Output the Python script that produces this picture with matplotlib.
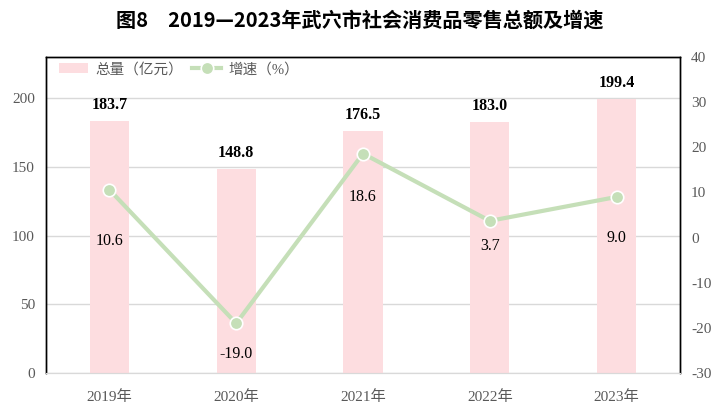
import matplotlib.pyplot as plt

plt.rcParams['font.family'] = ['Liberation Serif', 'Noto Sans CJK SC']
plt.rcParams['axes.unicode_minus'] = False

years = ['2019年', '2020年', '2021年', '2022年', '2023年']
total = [183.7, 148.8, 176.5, 183.0, 199.4]
growth = [10.6, -19.0, 18.6, 3.7, 9.0]

# label offsets below the line points, in pixels
growth_offsets = [-51, -31, -43, -25, -41]

pink = '#fddde0'
green = '#c5dfb8'
gray = '#595959'

fig = plt.figure(figsize=(7.2, 4.18), dpi=100)
ax = fig.add_axes([46 / 720, 1 - 373 / 418, 634 / 720, 316 / 418])
ax2 = ax.twinx()

x = list(range(len(years)))
bars = ax.bar(x, total, width=0.31, color=pink, label='总量（亿元）', zorder=2)
for xi, v in zip(x, total):
    ax.annotate(f'{v:.1f}', (xi, v), xytext=(0, 16), textcoords='offset pixels',
                ha='center', va='center', fontsize=11.5, fontweight='bold', color='black')

ax2.plot(x, growth, color=green, lw=3, marker='o', markersize=9,
         markerfacecolor=green, markeredgecolor='white', markeredgewidth=1.2,
         label='增速（%）', zorder=3)
for xi, v, off in zip(x, growth, growth_offsets):
    ax2.annotate(f'{v:.1f}', (xi, v), xytext=(0, off), textcoords='offset pixels',
                 ha='center', va='center', fontsize=11.5, color='black')

ax.set_xlim(-0.5, 4.5)
ax.set_ylim(0, 230)
ax.set_yticks([0, 50, 100, 150, 200])
ax2.set_ylim(-30, 40)
ax2.set_yticks(range(-30, 41, 10))
ax.set_xticks(x)
ax.set_xticklabels(years)

ax.grid(axis='y', color='#d9d9d9', lw=1, zorder=0)
ax.set_axisbelow(True)
for a in (ax, ax2):
    a.tick_params(length=0, labelsize=11, colors=gray, pad=8)
    for s in ('top', 'left', 'right'):
        a.spines[s].set_color('black')
        a.spines[s].set_linewidth(1)
    a.spines['bottom'].set_color('#d9d9d9')
ax.tick_params(axis='x', pad=12)

h1, l1 = ax.get_legend_handles_labels()
h2, l2 = ax2.get_legend_handles_labels()
leg = ax.legend(h1 + h2, l1 + l2, loc='upper left', ncol=2, frameon=False,
                fontsize=10.5, handlelength=2.0, columnspacing=0.6, handletextpad=0.5,
                bbox_to_anchor=(0.0, 1.025))
for t in leg.get_texts():
    t.set_color(gray)

fig.text(0.5, 1 - 20 / 418, '图8　2019—2023年武穴市社会消费品零售总额及增速',
         ha='center', va='center', fontsize=14.5, fontweight='bold',
         family=['Noto Sans CJK SC', 'DejaVu Sans'])

fig.savefig('out.png', dpi=100)
